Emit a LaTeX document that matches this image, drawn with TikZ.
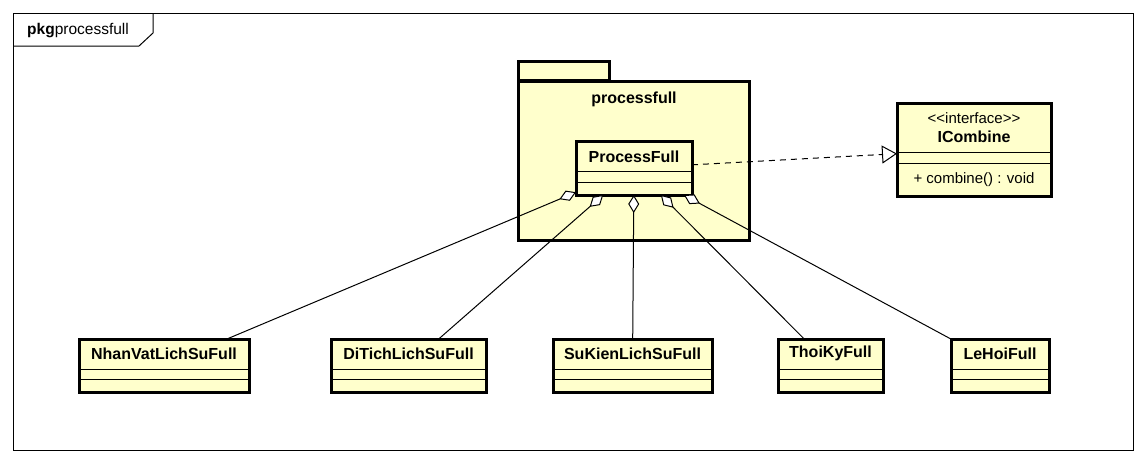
\documentclass[tikz,border=0pt]{standalone}
\usepackage{fontspec}
\setmainfont{Liberation Sans}
\usetikzlibrary{arrows.meta,calc}
\definecolor{umlfill}{HTML}{FFFFCC}
\begin{document}
\begin{tikzpicture}[x=1pt,y=-1pt,
  every node/.style={font=\fontsize{15pt}{17pt}\selectfont},
  cls/.style={draw=black,line width=3pt,fill=umlfill,rectangle,inner sep=0pt,outer sep=0pt},
  cname/.style={font=\fontsize{16pt}{18pt}\selectfont\bfseries,inner sep=0pt},
  ctext/.style={font=\fontsize{15pt}{17pt}\selectfont,inner sep=0pt},
  comp/.style={line width=1pt},
  pkgbox/.style={draw=black,line width=3pt,fill=umlfill,line join=miter},
  agg/.style={line width=1pt,{Diamond[fill=white,length=18pt,width=11pt,line width=1pt]}-},
  real/.style={line width=1pt,dash pattern=on 6pt off 5pt,-{Triangle[fill=white,length=15pt,width=18pt,line width=1pt]}}
]
\useasboundingbox (0,0) rectangle (1148,464);
% outer frame
\draw[line width=1pt] (13,13) rectangle (1133,450);
\draw[line width=1pt] (13,46) -- (139,46) -- (153,33) -- (153,13);
\node[anchor=west,inner sep=0pt,font=\fontsize{15.5pt}{17pt}\selectfont] (frametitle) at (27,31) {\textbf{pkg}processfull};
% package
\draw[pkgbox] (518,80) rectangle (609,61);
\draw[pkgbox] (518,81) rectangle (749,240);
\node[cname] (pkgname) at (634,99) {processfull};
% ProcessFull
\node[cls,minimum width=116pt,minimum height=54pt] (pf) at (634,168) {};
\node[cname] (pfname) at (634,157) {ProcessFull};
\draw[comp] (pf.west |- 0,171) -- (pf.east |- 0,171);
\draw[comp] (pf.west |- 0,182) -- (pf.east |- 0,182);
% ICombine
\node[cls,minimum width=154pt,minimum height=93pt] (ic) at (974,149.5) {};
\node[ctext] (icst) at (974,118) {<{}<interface>{}>};
\node[cname] (icname) at (974,137) {ICombine};
\draw[comp] (ic.west |- 0,152) -- (ic.east |- 0,152);
\draw[comp] (ic.west |- 0,163) -- (ic.east |- 0,163);
\node[ctext] (icop) at (974,180) {+ combine() : void};
% bottom classes
\foreach \n/\cx/\w/\t in {nv/164/170/NhanVatLichSuFull, dt/408.5/155/DiTichLichSuFull, sk/632.5/159/SuKienLichSuFull, tk/830.5/105/ThoiKyFull, lh/1000/98/LeHoiFull}{
  \node[cls,minimum width=\w pt,minimum height=53pt] (\n) at (\cx,365.5) {};
  \node[cname] (\n name) at (\cx,353.5) {\t};
  \draw[comp] (\n.west |- 0,369) -- (\n.east |- 0,369);
  \draw[comp] (\n.west |- 0,379) -- (\n.east |- 0,379);
}
% connectors
\draw[agg] (pf) -- (nv);
\draw[agg] (pf) -- (dt);
\draw[agg] (pf) -- (sk);
\draw[agg] (pf) -- (tk);
\draw[agg] (pf) -- (lh);
\draw[real] (pf) -- (ic);
\end{tikzpicture}
\end{document}
